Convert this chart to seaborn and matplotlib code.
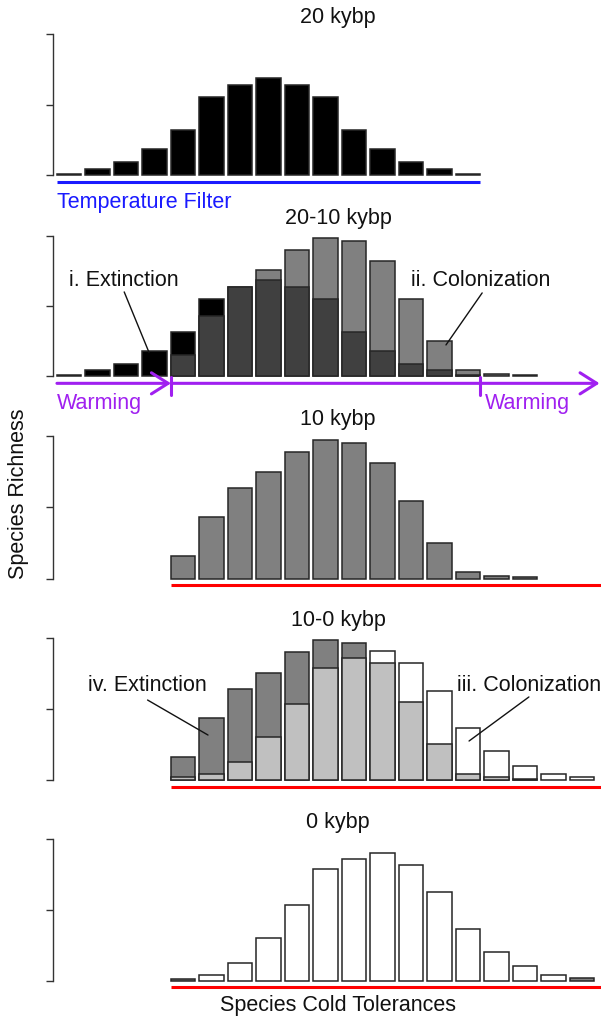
import pandas as pd
import matplotlib.pyplot as plt
import seaborn as sns

sns.set_style("white")
plt.rcParams['font.family'] = ['Liberation Sans', 'DejaVu Sans']

# ==========================
# Data (species richness per cold tolerance class)
# ==========================

# 20 kybp
classes_20k = list(range(1, 16))
rich_20k = [0.24, 0.95, 1.85, 3.7, 6.45, 11.04, 12.84, 13.74, 12.84, 11.04, 6.45, 3.7, 1.85, 0.95, 0.24]

# 20-10 kybp
classes_2010 = list(range(1, 18))
persist_2010 = [0, 0, 0, 0, 3.03, 8.63, 12.75, 13.65, 12.75, 10.95, 6.35, 3.6, 1.8, 0.85, 0.2, 0, 0]
extinct_2010 = [0.24, 0.9, 1.8, 3.6, 3.32, 2.32, 0, 0, 0, 0, 0, 0, 0, 0, 0, 0, 0]
colonize_2010 = [0, 0, 0, 0, 0, 0, 0, 1.42, 5.15, 8.75, 12.85, 12.85, 9.15, 4.13, 0.65, 0.38, 0.24]

# 10 kybp
classes_10k = list(range(5, 18))
rich_10k = [3.2, 8.7, 12.7, 14.93, 17.72, 19.49, 18.98, 16.28, 10.88, 4.98, 0.93, 0.42, 0.19]

# 10-0 kybp
classes_100 = list(range(5, 20))
persist_100 = [0.42, 0.9, 2.6, 6.04, 10.75, 15.75, 17.2, 16.5, 10.99, 5.05, 0.9, 0.47, 0.19, 0, 0]
extinct_100 = [2.83, 7.87, 10.18, 9.06, 7.17, 3.95, 2.0, 0, 0, 0, 0, 0, 0, 0, 0]
colonize_100 = [0, 0, 0, 0, 0, 0, 0, 1.57, 5.47, 7.5, 6.41, 3.59, 1.84, 0.8, 0.42]

# 0 kybp
classes_0k = list(range(5, 20))
rich_0k = [0.33, 0.89, 2.59, 6.02, 10.73, 15.76, 17.22, 18.02, 16.38, 12.56, 7.29, 4.05, 2.07, 0.8, 0.38]
status_0k = ["edge"] + ["new"] * 13 + ["edge"]

# ==========================
# Layout helpers
# ==========================

W, H = 601, 1018
EDGE = "#262626"
FS = 15.5
PURPLE = "#a020f0"

fig = plt.figure(figsize=(W / 100, H / 100), dpi=100)

step = 28.5
bar1 = 69.2
left_px = 52.5
xlim = (1 + (left_px - bar1) / step, 1 + (W - bar1) / step)


def make_ax(y0, y20):
    ax = fig.add_axes([left_px / W, 1 - y0 / H, (W - left_px) / W, (y0 - y20) / H])
    ax.set_xlim(*xlim)
    ax.set_ylim(0, 20)
    ax.set_yticks([0, 10, 20])
    ax.set_yticklabels([])
    ax.set_xticks([])
    ax.tick_params(axis='y', left=True, direction='out', length=5, width=1, color='#333333')
    for s in ['top', 'right', 'bottom']:
        ax.spines[s].set_visible(False)
    ax.spines['left'].set_color('#333333')
    ax.spines['left'].set_linewidth(1)
    ax.patch.set_alpha(0)
    fig.text(338 / W, 1 - (y20 - 17) / H, "", fontsize=FS)
    return ax


def bars(ax, x, h, kind, palette):
    df = pd.DataFrame({'x': x, 'h': h, 'kind': kind})
    df = df[df['h'] > 0]
    sns.barplot(data=df, x='x', y='h', hue='kind', palette=palette, native_scale=True,
                width=0.86, dodge=False, errorbar=None, edgecolor=EDGE, linewidth=1.1,
                legend=False, ax=ax)
    ax.set(xlabel='', ylabel='')
    ax.set_xlim(*xlim)
    ax.set_ylim(0, 20)


def top_kind(ext, col):
    return ["extinct" if e > 0 else ("colonized" if c > 0 else "persist") for e, c in zip(ext, col)]


def title(y20, txt):
    fig.text(338 / W, 1 - (y20 - 17) / H, txt, fontsize=FS, ha='center', va='center', color='#111111')


def guide(ax, a, b, color, y=-0.9):
    ax.plot([a, b], [y, y], color=color, lw=2.2, clip_on=False, solid_capstyle='butt')


# ==========================
# Panel 1: 20 kybp
# ==========================
ax1 = make_ax(175.3, 34.3)
bars(ax1, classes_20k, rich_20k, ["a"] * len(classes_20k), {"a": "black"})
guide(ax1, classes_20k[0] - 0.43, classes_20k[-1] + 0.43, "#1a1aff", y=-0.95)
ax1.text(classes_20k[0] - 0.43, -3.8, "Temperature Filter", color="#1a1aff", fontsize=FS,
         va='center', ha='left', clip_on=False)
title(34.3, "20 kybp")

# ==========================
# Panel 2: 20-10 kybp
# ==========================
ax2 = make_ax(376.3, 235.7)
total_2010 = [p + e + c for p, e, c in zip(persist_2010, extinct_2010, colonize_2010)]
pal = {"extinct": "black", "colonized": "#808080", "persist": "#404040"}
bars(ax2, classes_2010, total_2010, top_kind(extinct_2010, colonize_2010), pal)
bars(ax2, classes_2010, persist_2010, ["persist"] * len(classes_2010), pal)
title(235.7, "20-10 kybp")

# warming arrow
yarr = -1.0
x_a = classes_2010[0] - 0.43
x_b = classes_10k[0] - 0.43
x_c = classes_20k[-1] + 0.43
x_d = xlim[1] - 0.05
arrow = dict(arrowstyle="->,head_length=0.6,head_width=0.38", color=PURPLE, lw=2.2,
             shrinkA=0, shrinkB=0, mutation_scale=20)
ax2.annotate("", xy=(x_b, yarr), xytext=(x_a, yarr), arrowprops=arrow, annotation_clip=False)
ax2.annotate("", xy=(x_d, yarr), xytext=(x_b, yarr), arrowprops=arrow, annotation_clip=False)
for xv in [x_b, x_c]:
    ax2.plot([xv, xv], [-0.1, -2.6], color=PURPLE, lw=2.2, clip_on=False)
ax2.text(x_a, -3.8, "Warming", color=PURPLE, fontsize=FS, va='center', ha='left', clip_on=False)
ax2.text(x_c + 0.15, -3.8, "Warming", color=PURPLE, fontsize=FS, va='center', ha='left', clip_on=False)

ax2.text(1.0, 13.56, "i. Extinction", fontsize=FS, va='center', ha='left', color='#111111')
ax2.annotate("", xy=(3.8, 3.4), xytext=(2.93, 12.0),
             arrowprops=dict(arrowstyle='-', lw=1, color='#111111', shrinkA=0, shrinkB=0))
ax2.text(12.99, 13.56, "ii. Colonization", fontsize=FS, va='center', ha='left', color='#111111')
ax2.annotate("", xy=(14.22, 4.46), xytext=(15.49, 11.86),
             arrowprops=dict(arrowstyle='-', lw=1, color='#111111', shrinkA=0, shrinkB=0))

# ==========================
# Panel 3: 10 kybp
# ==========================
ax3 = make_ax(578.7, 436.0)
bars(ax3, classes_10k, rich_10k, ["a"] * len(classes_10k), {"a": "#808080"})
guide(ax3, classes_10k[0] - 0.43, xlim[1], "#ff0000", y=-0.85)
title(436.0, "10 kybp")

# ==========================
# Panel 4: 10-0 kybp
# ==========================
ax4 = make_ax(780.0, 637.7)
total_100 = [p + e + c for p, e, c in zip(persist_100, extinct_100, colonize_100)]
pal4 = {"extinct": "#808080", "colonized": "white", "persist": "#c0c0c0"}
bars(ax4, classes_100, total_100, top_kind(extinct_100, colonize_100), pal4)
bars(ax4, classes_100, persist_100, ["persist"] * len(classes_100), pal4)
guide(ax4, classes_100[0] - 0.43, xlim[1], "#ff0000", y=-0.95)
title(637.7, "10-0 kybp")

ax4.text(1.66, 13.35, "iv. Extinction", fontsize=FS, va='center', ha='left', color='#111111')
ax4.annotate("", xy=(5.87, 6.32), xytext=(3.75, 11.24),
             arrowprops=dict(arrowstyle='-', lw=1, color='#111111', shrinkA=0, shrinkB=0))
ax4.text(14.61, 13.35, "iii. Colonization", fontsize=FS, va='center', ha='left', color='#111111')
ax4.annotate("", xy=(15.03, 5.48), xytext=(17.13, 11.67),
             arrowprops=dict(arrowstyle='-', lw=1, color='#111111', shrinkA=0, shrinkB=0))

# ==========================
# Panel 5: 0 kybp
# ==========================
ax5 = make_ax(981.0, 839.3)
bars(ax5, classes_0k, rich_0k, status_0k, {"edge": "#808080", "new": "white"})
guide(ax5, classes_0k[0] - 0.43, xlim[1], "#ff0000", y=-0.9)
title(839.3, "0 kybp")

for ax in [ax1, ax2, ax3, ax4, ax5]:
    for p in ax.patches:
        p.set_clip_on(False)

fig.text(19 / W, 1 - 493.5 / H, "Species Richness", rotation=90, fontsize=FS,
         ha='center', va='center', color='#111111')
fig.text(338 / W, 1 - 1005 / H, "Species Cold Tolerances", fontsize=FS,
         ha='center', va='center', color='#111111')

plt.savefig("out.png", dpi=100)
